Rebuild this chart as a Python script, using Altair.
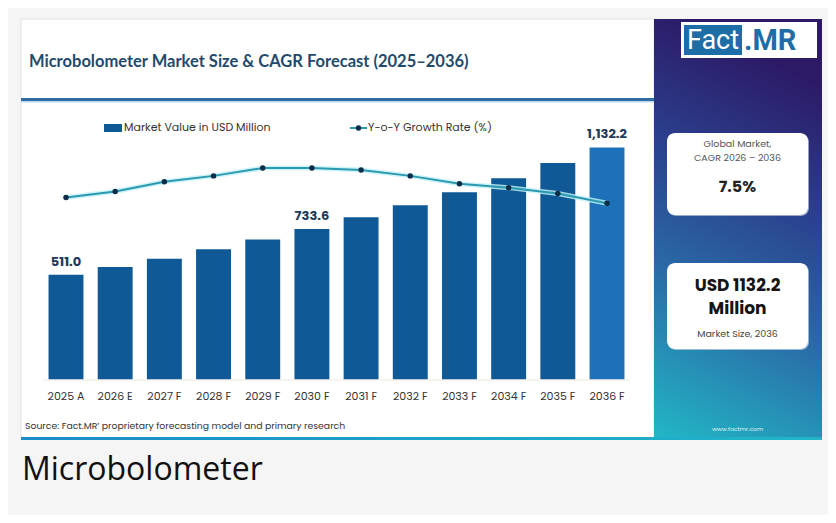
import altair as alt
import pandas as pd

# ---------------- data ----------------
years = ["2025 A", "2026 E", "2027 F", "2028 F", "2029 F", "2030 F",
         "2031 F", "2032 F", "2033 F", "2034 F", "2035 F", "2036 F"]
market_value = [511.0, 548.0, 589.0, 635.0, 682.0, 733.6,
                791.0, 850.0, 913.0, 981.0, 1056.0, 1132.2]
growth_rate = [6.6, 6.9, 7.4, 7.7, 8.1, 8.1, 8.0, 7.7, 7.3, 7.1, 6.8, 6.3]
bar_labels = ["511.0", "", "", "", "", "733.6", "", "", "", "", "", "1,132.2"]
bar_group = ["base"] * 11 + ["latest"]

title_text = "Microbolometer Market Size & CAGR Forecast (2025\u20132036)"
legend_bar = "Market Value in USD Million"
legend_line = "Y-o-Y Growth Rate (%)"
source_text = "Source: Fact.MR\u2019 proprietary forecasting model and primary research"
caption_text = "Microbolometer"
cagr_lines = ["Global Market,", "CAGR 2026 \u2013 2036"]
cagr_value = "7.5%"
size_lines = ["USD 1132.2", "Million"]
size_note = "Market Size, 2036"
site_text = "www.factmr.com"

df = pd.DataFrame({
    "year": years,
    "value": market_value,
    "growth": growth_rate,
    "label": bar_labels,
    "group": bar_group,
})

W, H = 820, 507
one = pd.DataFrame({"k": [0]})

x_band = alt.Scale(domain=years, range=[33.4, 623.6], paddingInner=0.29, paddingOuter=0.145)
y_bar = alt.Scale(domain=[0, 1200], range=[371.3, 125.5], nice=False, zero=True)
x_pt = alt.Scale(type="point", domain=years, range=[58, 599], padding=0)
y_line = alt.Scale(domain=[5, 9], range=[220.8, 142.4], nice=False, zero=False)

FONT = "Poppins, Lato, 'Open Sans', sans-serif"


def rect(x, x2, y, y2, **kw):
    return alt.Chart(one).mark_rect(**kw).encode(
        x=alt.value(x), x2=alt.value(x2), y=alt.value(y), y2=alt.value(y2))


def label(t, x, y, **kw):
    return alt.Chart(one).mark_text(text=t, **kw).encode(x=alt.value(x), y=alt.value(y))


layers = []

# white card
layers.append(rect(13, 646, 11, 431, fill="white", stroke="#e2e2e2", strokeWidth=1))
# title + underline
layers.append(label(title_text, 21, 54, align="left", baseline="middle", font="Lato",
                    fontSize=16.5, fontWeight="bold", color="#1f4a6e"))
layers.append(rect(13, 646, 90, 93, fill="#2f6ea5"))
layers.append(rect(13, 646, 93, 94.5, fill="#bcd6ea"))

# right panel gradient
panel_grad = alt.Gradient(
    gradient="linear",
    stops=[alt.GradientStop(color="#2c1a67", offset=0),
           alt.GradientStop(color="#2b3f8c", offset=0.3),
           alt.GradientStop(color="#2a6aa6", offset=0.6),
           alt.GradientStop(color="#22b7c6", offset=1)],
    x1=0.2, x2=0, y1=0, y2=1)
layers.append(rect(646, 814, 11, 431, fill=panel_grad))

# logo
layers.append(rect(673, 809, 14, 50, fill="white"))
layers.append(rect(676, 734, 17, 47, fill="#1d6ea6"))
layers.append(label("Fact", 705, 33, align="center", baseline="middle", font="Roboto",
                    fontSize=27, color="white"))
layers.append(label(".MR", 736, 33, align="left", baseline="middle", font="Roboto",
                    fontSize=29, fontWeight="bold", color="#1d6ea6"))

# info boxes
layers.append(rect(660, 801, 126, 208, fill="#dfe6ef", cornerRadius=8, opacity=0.6))
layers.append(rect(659, 800, 125, 207, fill="white", cornerRadius=8))
layers.append(label(cagr_lines[0], 729.5, 136, align="center", baseline="middle", font=FONT,
                    fontSize=9.5, color="#555555"))
layers.append(label(cagr_lines[1], 729.5, 150, align="center", baseline="middle", font=FONT,
                    fontSize=9.5, color="#555555"))
layers.append(label(cagr_value, 729.5, 179, align="center", baseline="middle", font=FONT,
                    fontSize=16, fontWeight="bold", color="#222222"))

layers.append(rect(660, 801, 256, 342, fill="#dfe6ef", cornerRadius=8, opacity=0.6))
layers.append(rect(659, 800, 255, 341, fill="white", cornerRadius=8))
layers.append(label(size_lines[0], 729.5, 278, align="center", baseline="middle", font=FONT,
                    fontSize=17, fontWeight="bold", color="#151515"))
layers.append(label(size_lines[1], 729.5, 301, align="center", baseline="middle", font=FONT,
                    fontSize=17, fontWeight="bold", color="#151515"))
layers.append(label(size_note, 729.5, 326, align="center", baseline="middle", font=FONT,
                    fontSize=9.5, color="#444444"))
layers.append(label(site_text, 729.5, 421, align="center", baseline="middle", font=FONT,
                    fontSize=6, color="white", opacity=0.85))

# bottom accent line
bottom_grad = alt.Gradient(
    gradient="linear",
    stops=[alt.GradientStop(color="#1a8cc8", offset=0),
           alt.GradientStop(color="#20b6c8", offset=1)],
    x1=0, x2=1, y1=0, y2=0)
layers.append(rect(13, 814, 429, 432, fill=bottom_grad))

# legend
layers.append(rect(96, 114, 116, 124, fill="#0f5a96"))
layers.append(label(legend_bar, 116, 120, align="left", baseline="middle", font=FONT,
                    fontSize=11, color="#333333"))
layers.append(alt.Chart(one).mark_rule(color="#2a9ab0", strokeWidth=2).encode(
    x=alt.value(342), x2=alt.value(359), y=alt.value(120)))
layers.append(alt.Chart(one).mark_point(filled=True, size=28, color="#0c2d48", opacity=1).encode(
    x=alt.value(350.5), y=alt.value(120)))
layers.append(label(legend_line, 360, 120, align="left", baseline="middle", font=FONT,
                    fontSize=11, color="#333333"))

# faint baseline
layers.append(alt.Chart(one).mark_rule(color="#efe7df", strokeWidth=1).encode(
    x=alt.value(35), x2=alt.value(622), y=alt.value(372)))

# bars
bars = alt.Chart(df).mark_bar().encode(
    x=alt.X("year:N", scale=x_band, axis=None, sort=years),
    y=alt.Y("value:Q", scale=y_bar, axis=None),
    color=alt.Color("group:N", scale=alt.Scale(domain=["base", "latest"],
                                               range=["#0f5a96", "#1c71b8"]), legend=None),
)
layers.append(bars)

# bar value labels
layers.append(alt.Chart(df).mark_text(font=FONT, fontSize=13, fontWeight="bold",
                                      color="#1d3a5c", baseline="middle", dy=-13).encode(
    x=alt.X("year:N", scale=x_band, axis=None, sort=years),
    y=alt.Y("value:Q", scale=y_bar, axis=None),
    text="label:N",
))

# x category labels
layers.append(alt.Chart(df).mark_text(font=FONT, fontSize=11, color="#333333",
                                      baseline="middle").encode(
    x=alt.X("year:N", scale=x_band, axis=None, sort=years),
    y=alt.value(389),
    text="year:N",
))

# growth line (glow + line + points)
layers.append(alt.Chart(df).mark_line(color="#c4f0f8", strokeWidth=5, opacity=0.8).encode(
    x=alt.X("year:N", scale=x_pt, axis=None, sort=years),
    y=alt.Y("growth:Q", scale=y_line, axis=None),
))
layers.append(alt.Chart(df).mark_line(color="#2a9ab0", strokeWidth=2).encode(
    x=alt.X("year:N", scale=x_pt, axis=None, sort=years),
    y=alt.Y("growth:Q", scale=y_line, axis=None),
))
layers.append(alt.Chart(df).mark_point(filled=True, size=30, color="#0c2d48", opacity=1).encode(
    x=alt.X("year:N", scale=x_pt, axis=None, sort=years),
    y=alt.Y("growth:Q", scale=y_line, axis=None),
))

# source + caption
layers.append(label(source_text, 17, 418, align="left", baseline="middle", font=FONT,
                    fontSize=9.3, color="#333333"))
layers.append(label(caption_text, 14, 462, align="left", baseline="middle", font="Open Sans",
                    fontSize=32, color="#111111"))

chart = alt.layer(*layers).resolve_scale(
    x="independent", y="independent", color="independent"
).properties(
    width=W, height=H, autosize=alt.AutoSizeParams(type="none"), padding=0,
    background="#f5f5f5",
).configure_view(stroke=None)

chart.save("out.html", embed_options={"renderer": "svg", "actions": False})
